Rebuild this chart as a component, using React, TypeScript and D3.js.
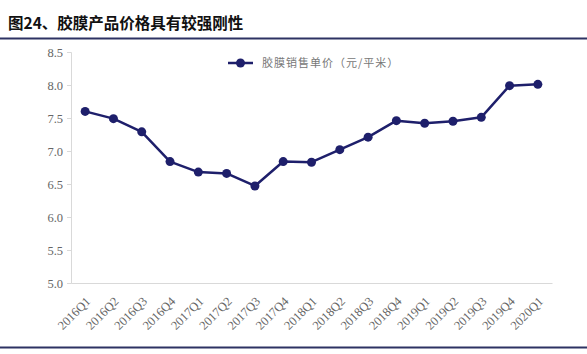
import React, { useEffect, useRef } from "react";
import * as d3 from "d3";

const quarters = [
  "2016Q1", "2016Q2", "2016Q3", "2016Q4",
  "2017Q1", "2017Q2", "2017Q3", "2017Q4",
  "2018Q1", "2018Q2", "2018Q3", "2018Q4",
  "2019Q1", "2019Q2", "2019Q3", "2019Q4",
  "2020Q1",
];
const prices = [
  7.6, 7.49, 7.29, 6.84,
  6.68, 6.66, 6.47, 6.84,
  6.83, 7.02, 7.21, 7.46,
  7.42, 7.45, 7.51, 7.99,
  8.01,
];
const yTicks = [5.0, 5.5, 6.0, 6.5, 7.0, 7.5, 8.0, 8.5];
const seriesName = "胶膜销售单价（元/平米）";
const title = "图24、胶膜产品价格具有较强刚性";

const W = 587;
const H = 354;
const navy = "#1e1f6b";
const serif = '"Liberation Serif", "Times New Roman", serif';

const App = () => {
  const svgRef = useRef<SVGSVGElement | null>(null);

  useEffect(() => {
    const svg = d3.select(svgRef.current);
    svg.selectAll("*").remove();

    const left = 71, right = 552, top = 52, bottom = 283;

    // title + rules
    svg.append("text")
      .attr("x", 8).attr("y", 29)
      .style("font-family", '"Noto Sans CJK SC", sans-serif')
      .style("font-weight", "bold")
      .style("font-size", "15.5px")
      .attr("fill", "#111")
      .text(title);
    svg.append("line")
      .attr("x1", 0).attr("x2", W).attr("y1", 38.5).attr("y2", 38.5)
      .attr("stroke", "#2d3263").attr("stroke-width", 2);
    svg.append("line")
      .attr("x1", 0).attr("x2", W).attr("y1", 347.5).attr("y2", 347.5)
      .attr("stroke", "#2d3263").attr("stroke-width", 2);

    const x = d3.scaleBand().domain(quarters).range([left, right]);
    const y = d3.scaleLinear().domain([5, 8.5]).range([bottom, top]);

    // y axis
    const yAxis = svg.append("g")
      .attr("transform", `translate(${left},0)`)
      .call(d3.axisLeft(y).tickValues(yTicks).tickFormat(d3.format(".1f")).tickSize(4).tickPadding(4));
    yAxis.select(".domain").attr("stroke", "#d9d9d9");
    yAxis.selectAll(".tick line").attr("stroke", "#d9d9d9");
    yAxis.selectAll("text")
      .style("font-family", serif)
      .style("font-size", "12.5px")
      .attr("fill", "#666");

    // x axis
    const xAxis = svg.append("g")
      .attr("transform", `translate(0,${bottom})`)
      .call(d3.axisBottom(x).tickSize(0).tickPadding(0));
    xAxis.select(".domain").attr("stroke", "#d9d9d9");
    xAxis.selectAll("text")
      .style("font-family", serif)
      .style("font-size", "12.5px")
      .attr("fill", "#666")
      .attr("text-anchor", "end")
      .attr("y", 0)
      .attr("dy", "0.35em")
      .attr("transform", "translate(3,16) rotate(-45)");

    // line
    const cx = (i: number) => (x(quarters[i]) as number) + x.bandwidth() / 2;
    const line = d3.line<number>()
      .x((_, i) => cx(i))
      .y((d) => y(d));
    svg.append("path")
      .datum(prices)
      .attr("d", line)
      .attr("fill", "none")
      .attr("stroke", navy)
      .attr("stroke-width", 2.5)
      .attr("stroke-linejoin", "round");
    svg.append("g")
      .selectAll("circle")
      .data(prices)
      .enter()
      .append("circle")
      .attr("cx", (_, i) => cx(i))
      .attr("cy", (d) => y(d))
      .attr("r", 4.5)
      .attr("fill", navy);

    // legend
    const lg = svg.append("g").attr("transform", "translate(228,63)");
    lg.append("line").attr("x1", 0).attr("x2", 25).attr("stroke", navy).attr("stroke-width", 2.5);
    lg.append("circle").attr("cx", 12.5).attr("r", 4.5).attr("fill", navy);
    lg.append("text")
      .attr("x", 34).attr("dy", "0.35em")
      .style("font-family", '"Noto Sans CJK SC", sans-serif')
      .style("font-size", "11px")
      .attr("fill", "#777")
      .attr("letter-spacing", 1)
      .text(seriesName);
  }, []);

  return (
    <svg ref={svgRef} width={W} height={H} style={{ position: "absolute", left: 0, top: 0, background: "#fff" }}></svg>
  );
};

export default App;
